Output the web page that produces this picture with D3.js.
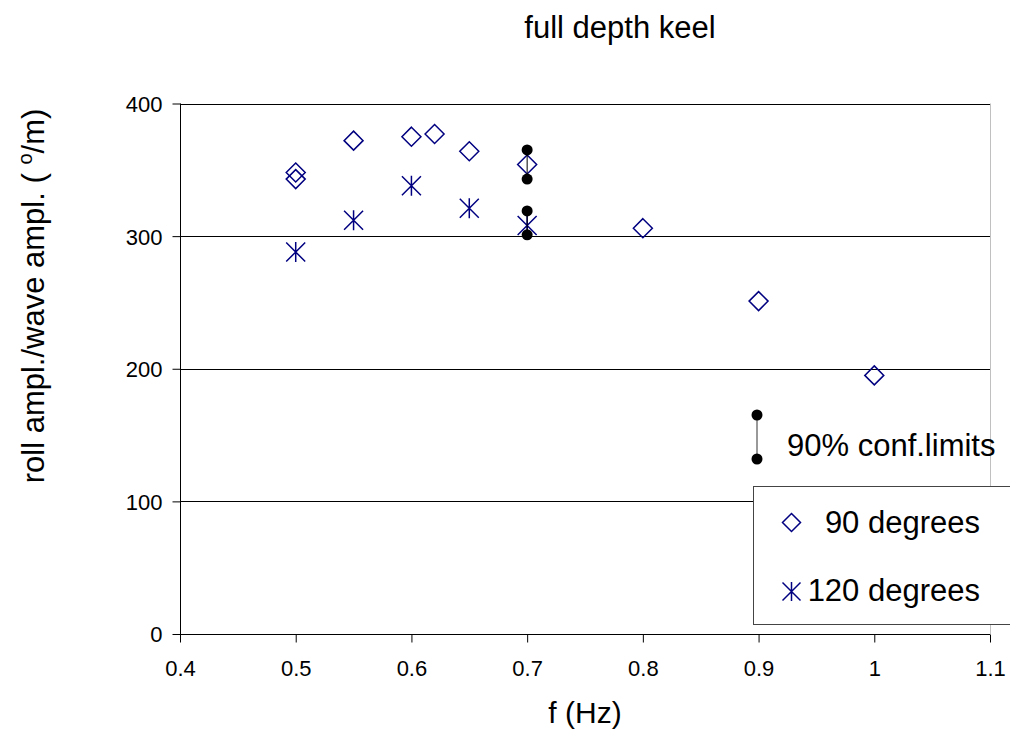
<!DOCTYPE html>
<html>
<head>
<meta charset="utf-8">
<script src="https://cdn.jsdelivr.net/npm/d3@7"></script>
<style>
  html, body { margin: 0; padding: 0; background: #fff; }
  svg { display: block; font-family: "Liberation Sans", Arial, sans-serif; }
</style>
</head>
<body>
<svg id="chart" width="1010" height="735"></svg>
<script>
// Roll response, full depth keel
const freq90 = [0.5, 0.5, 0.55, 0.6, 0.62, 0.65, 0.7, 0.8, 0.9, 1.0];
const roll90 = [348, 343, 372, 375, 377, 364, 354, 306, 251, 195];
const freq120 = [0.5, 0.55, 0.6, 0.65, 0.7];
const roll120 = [288, 312, 338, 321, 308];
// 90% confidence limits at 0.7 Hz
const ciFreq = [0.7, 0.7];
const ciLow = [343, 301];
const ciHigh = [365, 319];

const xTicks = [0.4, 0.5, 0.6, 0.7, 0.8, 0.9, 1.0, 1.1];
const yTicks = [0, 100, 200, 300, 400];
const seriesNames = ["90 degrees", "120 degrees"];
const ciLabel = "90% conf.limits";
const titleText = "full depth keel";
const xTitle = "f (Hz)";

const navy = "#000080";
const svg = d3.select("#chart");

const plot = { left: 180, right: 990, top: 103.5, bottom: 634 };
const x = d3.scaleLinear().domain([0.4, 1.1]).range([plot.left, plot.right]);
const y = d3.scaleLinear().domain([0, 400]).range([plot.bottom, plot.top]);

// plot frame (right edge, light)
svg.append("line")
  .attr("x1", plot.right + 0.5).attr("x2", plot.right + 0.5)
  .attr("y1", plot.top).attr("y2", plot.bottom)
  .attr("stroke", "#c0c0c0").attr("stroke-width", 1);

// horizontal gridlines
svg.append("g").selectAll("line")
  .data(yTicks.filter(d => d > 0))
  .join("line")
  .attr("x1", plot.left).attr("x2", plot.right)
  .attr("y1", d => Math.round(y(d)) + 0.5).attr("y2", d => Math.round(y(d)) + 0.5)
  .attr("stroke", "#000").attr("stroke-width", 1);

// axes
const xAxis = svg.append("g")
  .attr("transform", `translate(0,${Math.round(plot.bottom) + 0.5})`)
  .call(d3.axisBottom(x).tickValues(xTicks).tickSize(8).tickPadding(18)
    .tickFormat(d => d3.format("")(+d.toFixed(1))));
const yAxis = svg.append("g")
  .attr("transform", `translate(${plot.left + 0.5},0)`)
  .call(d3.axisLeft(y).tickValues(yTicks).tickSize(8).tickPadding(10));

[xAxis, yAxis].forEach(g => {
  g.select(".domain").attr("stroke", "#000").attr("stroke-width", 1);
  g.selectAll(".tick line").attr("stroke", "#000");
  g.selectAll(".tick text")
    .attr("font-family", "Liberation Sans, Arial, sans-serif")
    .attr("font-size", 22).attr("fill", "#000");
});
// plain axis lines without the outer end ticks
xAxis.select(".domain").attr("d", `M${plot.left},0H${plot.right}`);
yAxis.select(".domain").attr("d", `M0,${plot.top}V${plot.bottom}`);
yAxis.selectAll(".tick text").attr("dy", "0.36em");

// diamond markers (90 degrees)
const diamond = (cx, cy, r) => `M${cx},${cy - r}L${cx + r},${cy}L${cx},${cy + r}L${cx - r},${cy}Z`;
svg.append("g").selectAll("path")
  .data(freq90.map((f, i) => [f, roll90[i]]))
  .join("path")
  .attr("d", d => diamond(x(d[0]), y(d[1]), 9.5))
  .attr("fill", "none").attr("stroke", navy).attr("stroke-width", 1.5);

// star markers (120 degrees)
const star = (cx, cy, r) =>
  `M${cx - r},${cy - r}L${cx + r},${cy + r}M${cx - r},${cy + r}L${cx + r},${cy - r}M${cx},${cy - r * 1.05}V${cy + r * 1.05}`;
svg.append("g").selectAll("path")
  .data(freq120.map((f, i) => [f, roll120[i]]))
  .join("path")
  .attr("d", d => star(x(d[0]), y(d[1]), 9.5))
  .attr("fill", "none").attr("stroke", navy).attr("stroke-width", 1.5);

// confidence limits
const ci = svg.append("g");
ci.selectAll("line")
  .data(ciFreq.map((f, i) => ({ f, lo: ciLow[i], hi: ciHigh[i] })))
  .join("line")
  .attr("x1", d => x(d.f)).attr("x2", d => x(d.f))
  .attr("y1", d => y(d.lo)).attr("y2", d => y(d.hi))
  .attr("stroke", "#000").attr("stroke-width", 1);
ci.selectAll("circle")
  .data(ciFreq.flatMap((f, i) => [[f, ciLow[i]], [f, ciHigh[i]]]))
  .join("circle")
  .attr("cx", d => x(d[0])).attr("cy", d => y(d[1])).attr("r", 5.5)
  .attr("fill", "#000");

// confidence-limit key
const ciKey = svg.append("g");
ciKey.append("line")
  .attr("x1", 757).attr("x2", 757).attr("y1", 415).attr("y2", 459)
  .attr("stroke", "#555").attr("stroke-width", 1.2);
ciKey.selectAll("circle").data([415, 459]).join("circle")
  .attr("cx", 757).attr("cy", d => d).attr("r", 5.5).attr("fill", "#000");
ciKey.append("text")
  .attr("x", 787).attr("y", 456)
  .attr("font-size", 31).attr("fill", "#000")
  .text(ciLabel);

// series legend
const legend = svg.append("g");
legend.append("rect")
  .attr("x", 753.5).attr("y", 486.5).attr("width", 270).attr("height", 138)
  .attr("fill", "#fff").attr("stroke", "#444").attr("stroke-width", 1);
legend.append("path").attr("d", diamond(791.5, 522.5, 9))
  .attr("fill", "none").attr("stroke", navy).attr("stroke-width", 1.5);
legend.append("path").attr("d", star(791.5, 591.5, 9))
  .attr("fill", "none").attr("stroke", navy).attr("stroke-width", 1.5);
legend.selectAll("text").data(seriesNames).join("text")
  .attr("x", 980).attr("y", (d, i) => i === 0 ? 533 : 601)
  .attr("text-anchor", "end").attr("font-size", 31).attr("fill", "#000")
  .text(d => d);

// titles
svg.append("text")
  .attr("x", 620).attr("y", 38).attr("text-anchor", "middle")
  .attr("font-size", 31).attr("fill", "#000")
  .text(titleText);
svg.append("text")
  .attr("x", (plot.left + plot.right) / 2).attr("y", 723).attr("text-anchor", "middle")
  .attr("font-size", 30).attr("fill", "#000")
  .text(xTitle);

const yt = svg.append("text")
  .attr("transform", "translate(44,296) rotate(-90)")
  .attr("text-anchor", "middle").attr("font-size", 31).attr("fill", "#000");
yt.append("tspan").text("roll ampl./wave ampl. (\u00a0");
yt.append("tspan").attr("font-size", 20).attr("dy", -12).text("o");
yt.append("tspan").attr("dy", 12).text("/m)");
</script>
</body>
</html>
